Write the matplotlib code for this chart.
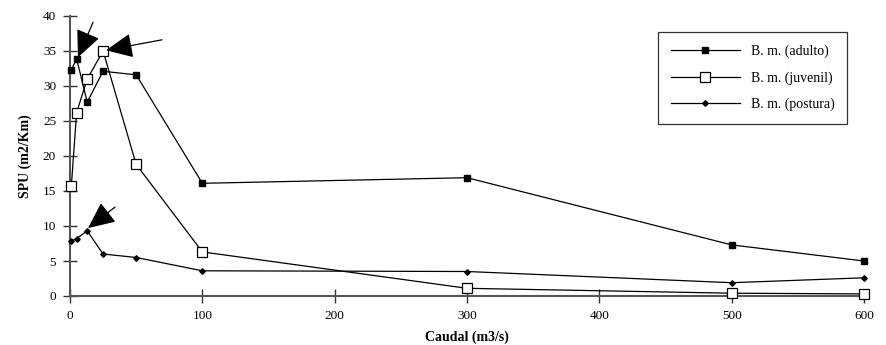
import matplotlib
matplotlib.use("Agg")
import matplotlib.pyplot as plt

caudal = [1, 5, 13, 25, 50, 100, 300, 500, 600]
adulto = [32.3, 33.9, 27.7, 32.1, 31.6, 16.1, 16.9, 7.3, 5.0]
juvenil = [15.7, 26.2, 31.0, 35.0, 18.8, 6.3, 1.1, 0.4, 0.3]
postura = [7.9, 8.2, 9.3, 6.0, 5.5, 3.6, 3.5, 1.9, 2.6]
labels = ["B. m. (adulto)", "B. m. (juvenil)", "B. m. (postura)"]

plt.rcParams['font.family'] = ['Liberation Serif', 'DejaVu Serif']

fig = plt.figure(figsize=(8.86, 3.45), dpi=100)
ax = fig.add_axes([70/886, 1-296/345, (864-70)/886, (296-16)/345])

ax.plot(caudal, adulto, color='black', lw=0.9, marker='s', ms=5,
        mfc='black', mec='black', label=labels[0], clip_on=False, zorder=3)
ax.plot(caudal, juvenil, color='black', lw=0.9, marker='s', ms=7.5,
        mfc='white', mec='black', mew=0.9, label=labels[1], clip_on=False, zorder=3)
ax.plot(caudal, postura, color='black', lw=0.9, marker='D', ms=2.8,
        mfc='black', mec='black', label=labels[2], clip_on=False, zorder=3)

ax.set_xlim(0, 600)
ax.set_ylim(0, 40)
ax.set_xticks(range(0, 601, 100))
ax.set_yticks(range(0, 41, 5))
for s in ['top', 'right']:
    ax.spines[s].set_visible(False)
for s in ['left', 'bottom']:
    ax.spines[s].set_color('#555555')
    ax.spines[s].set_linewidth(1.5)
ax.tick_params(direction='inout', length=10, width=1, colors='#333333',
               labelsize=9.5, labelcolor='black', pad=5)

ax.set_xlabel("Caudal (m3/s)", fontsize=10, fontweight='bold', labelpad=6)
ax.set_ylabel("SPU (m2/Km)", fontsize=10, fontweight='bold', labelpad=8)

arrow_kw = dict(arrowstyle='-|>,head_length=1.2,head_width=0.55', color='black',
                lw=0.9, shrinkA=0, shrinkB=0, mutation_scale=14)
ax.annotate('', xy=(6, 34.1), xytext=(17.4, 39.1), arrowprops=arrow_kw, annotation_clip=False)
ax.annotate('', xy=(27.2, 35.1), xytext=(69.5, 36.6), arrowprops=arrow_kw, annotation_clip=False)
ax.annotate('', xy=(13.6, 9.7), xytext=(34, 12.7), arrowprops=arrow_kw, annotation_clip=False)

leg = ax.legend(loc='upper left', bbox_to_anchor=((658-70)/794, 1-(32-16)/280),
                frameon=True, fancybox=False, edgecolor='black', fontsize=10,
                handlelength=5.0, borderpad=0.9, labelspacing=0.95, handletextpad=0.8,
                borderaxespad=0)
leg.get_frame().set_linewidth(0.9)

fig.savefig("out.png", dpi=100)
